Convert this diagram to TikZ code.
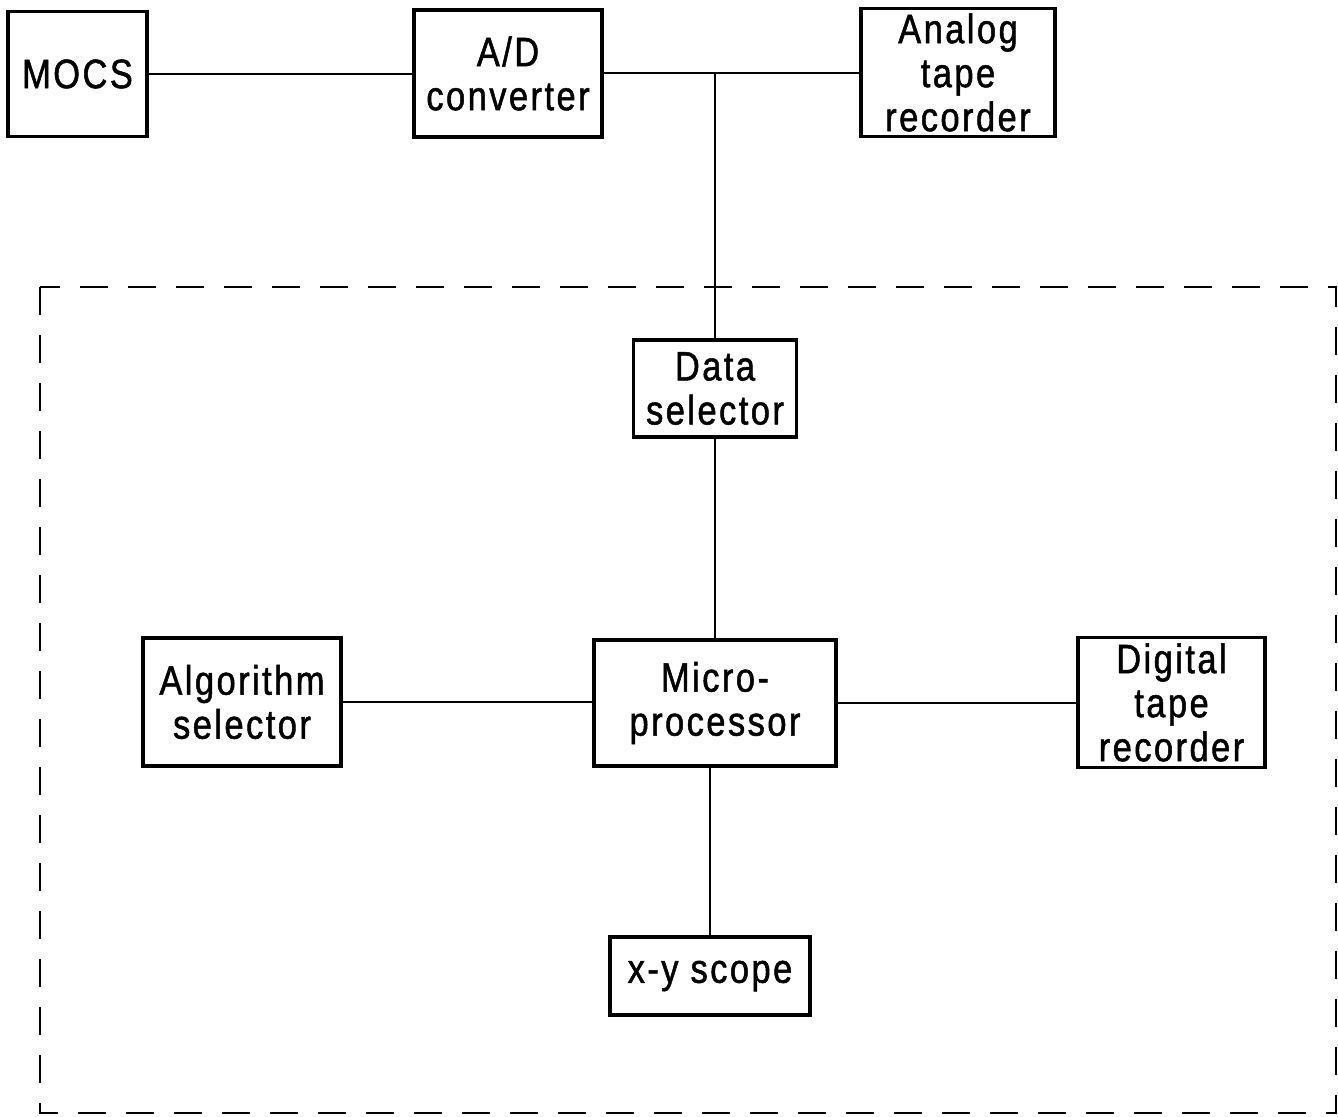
\documentclass[tikz,border=0pt]{standalone}
\usepackage{fontspec}
\setmainfont{Liberation Sans}[FakeStretch=0.84,LetterSpace=6,FakeBold=1.2]
\begin{document}
\begin{tikzpicture}[x=1pt,y=-1pt,
  blk/.style={draw,line width=3.5pt,inner sep=0pt,align=center,
    font=\fontsize{41}{44}\selectfont},
  wire/.style={line width=2pt},
  frame/.style={line width=2.5pt,dash pattern=on 28pt off 20pt}]
\useasboundingbox (0,0) rectangle (1338,1116);
\node[blk,minimum width=139pt,minimum height=125pt] (mocs) at (77.5,74) {MOCS};
\node[blk,minimum width=188pt,minimum height=127pt] (ad) at (508,73.5) {A/D\\converter};
\node[blk,minimum width=194pt,minimum height=128pt] (analog) at (958,72.5) {Analog\\tape\\recorder};
\node[blk,minimum width=163pt,minimum height=97pt] (data) at (715,388.5) {Data\\selector};
\node[blk,minimum width=198pt,minimum height=128pt] (alg) at (242,702) {Algorithm\\selector};
\node[blk,minimum width=242pt,minimum height=126pt] (micro) at (715,703) {Micro-\\processor};
\node[blk,minimum width=187pt,minimum height=130pt] (digital) at (1171.5,702.5) {Digital\\tape\\recorder};
\node[blk,minimum width=200pt,minimum height=78pt] (scope) at (710,976) {x-y scope};
\coordinate (j) at (715,73);
\draw[frame] (40,287) rectangle (1336,1113);
\draw[wire] (mocs.east) -- (mocs.east -| ad.west);
\draw[wire] (ad.east |- j) -- (analog.west |- j);
\draw[wire] (j) -- (data.north);
\draw[wire] (data.south) -- (micro.north);
\draw[wire] (alg.east) -- (alg.east -| micro.west);
\draw[wire] (micro.east) -- (micro.east -| digital.west);
\draw[wire] (scope.north |- micro.south) -- (scope.north);
\end{tikzpicture}
\end{document}
